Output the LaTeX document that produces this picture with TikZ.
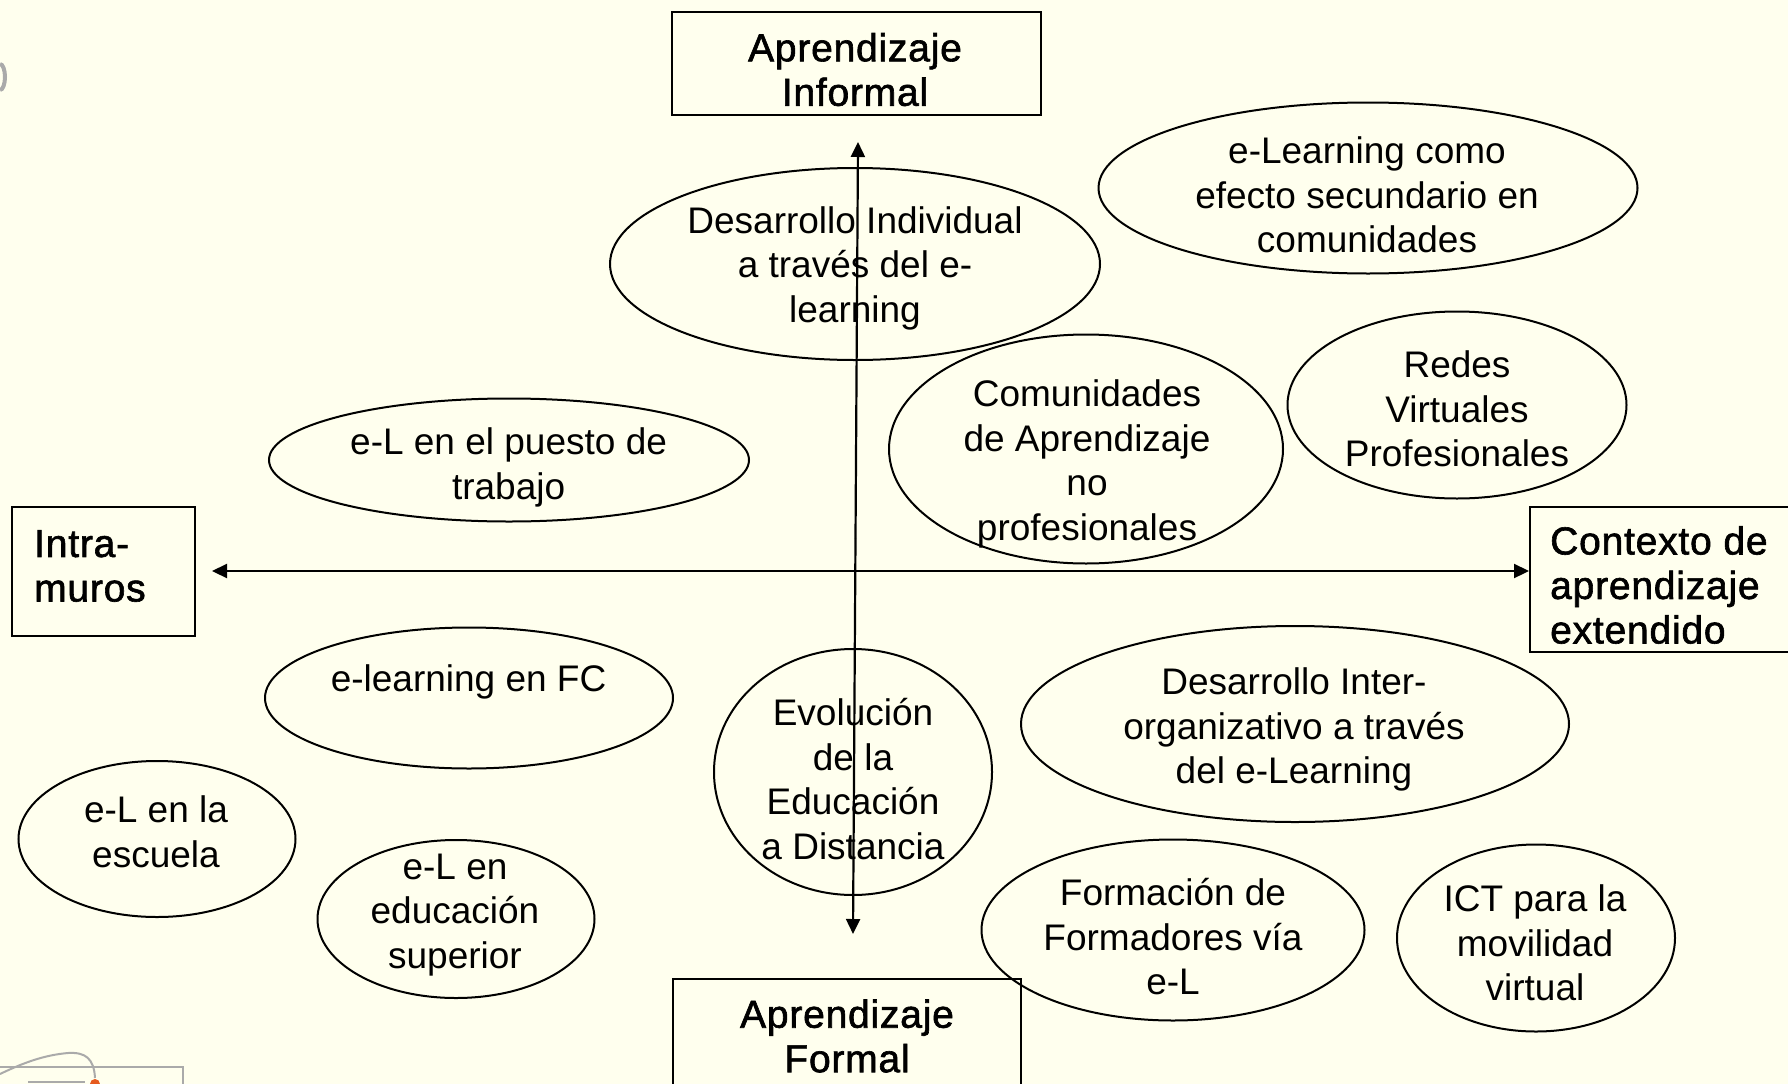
\documentclass[tikz,border=0pt]{standalone}
\usepackage{fontspec}
\usepackage{calc}
\setmainfont{Liberation Sans}
\newfontfamily\boxfont[FakeBold=1.6,LetterSpace=2]{Liberation Sans}
\usetikzlibrary{shapes.geometric,arrows.meta,calc}
\definecolor{bgcream}{RGB}{255,255,238}
\definecolor{logogray}{RGB}{170,170,170}
\definecolor{logoorange}{RGB}{230,90,30}
\begin{document}
\begin{tikzpicture}[x=1pt,y=-1pt,
  oval/.style={draw=black,line width=2pt,ellipse,inner sep=0pt},
  frame/.style={draw=black,line width=2pt,rectangle,inner sep=0pt},
  txt/.style={align=center,inner sep=0pt,font=\fontsize{37}{44.5}\selectfont},
  btxt/.style={inner sep=0pt,font=\boxfont\fontsize{39}{44.5}\selectfont},
  axis/.style={line width=2.2pt,-{Triangle[length=15pt,width=14pt]}}]
\fill[bgcream] (0,0) rectangle (1788,1084);
\useasboundingbox (0,0) rectangle (1788,1084);
\clip (0,0) rectangle (1788,1084);
% faint logo remnants
\draw[logogray,line width=4pt] (0,64) arc[start angle=90,end angle=-90,x radius=5,y radius=-13];
\draw[logogray,line width=2pt] (0,1067) -- (183,1067) -- (183,1084);
\draw[logogray,line width=2pt] (28,1082) -- (85,1082);
\draw[logogray,line width=2pt] (0,1074) .. controls (25,1062) and (45,1055) .. (68,1053) .. controls (85,1052) and (94,1058) .. (95,1078);
\fill[logoorange] (95,1084) circle (5);
% boxes
\node[frame,minimum width=369pt,minimum height=103pt] (inf) at (856,63.5) {};
\node[btxt,align=center] (inftxt) at (855,69.6) {Aprendizaje\\Informal};
\node[frame,minimum width=348pt,minimum height=200pt] (for) at (847,1079) {};
\node[btxt,align=center] (fortxt) at (847,1036) {Aprendizaje\\Formal};
\node[frame,minimum width=183pt,minimum height=129pt] (intra) at (103.5,571.5) {};
\node[btxt,align=left,anchor=west] (intratxt) at (34,566) {Intra-\\muros};
\node[frame,minimum width=340pt,minimum height=145pt] (ext) at (1700,579.5) {};
\node[btxt,align=left,anchor=west] (exttxt) at (1550,585)
  {\makebox[\widthof{aprendizaje}+8pt][s]{Contexto de}\\aprendizaje\\extendido};
% ellipses
\node[oval,minimum width=490pt,minimum height=192pt] (e1) at (855,264) {};
\node[oval,minimum width=539pt,minimum height=171pt] (e2) at (1368,188) {};
\node[oval,minimum width=394pt,minimum height=229pt] (e3) at (1086,449) {};
\node[oval,minimum width=339pt,minimum height=187pt] (e4) at (1457,405) {};
\node[oval,minimum width=480pt,minimum height=123pt] (e5) at (509,460) {};
\node[oval,minimum width=408pt,minimum height=141pt] (e6) at (469,698) {};
\node[oval,minimum width=277pt,minimum height=156pt] (e7) at (157,839) {};
\node[oval,minimum width=277pt,minimum height=158pt] (e8) at (456,919) {};
\node[oval,minimum width=278pt,minimum height=246pt] (e9) at (853,772) {};
\node[oval,minimum width=548pt,minimum height=196pt] (e10) at (1295,724) {};
\node[oval,minimum width=383pt,minimum height=181pt] (e11) at (1173,930) {};
\node[oval,minimum width=278pt,minimum height=187pt] (e12) at (1536,938) {};
% texts
\node[txt] (t1) at (855,268.4) {Desarrollo Individual\\a través del e-\\learning};
\node[txt] (t2) at (1367,195) {e-Learning como\\efecto secundario en\\comunidades};
\node[txt] (t3) at (1087,463.9) {Comunidades\\de Aprendizaje\\no\\profesionales};
\node[txt] (t4) at (1457,409) {Redes\\Virtuales\\Profesionales};
\node[txt] (t5) at (508.6,467.4) {e-L en el puesto de\\trabajo};
\node[txt] (t6) at (468.6,682.4) {e-learning en FC};
\node[txt] (t7) at (156,832) {e-L en la\\escuela};
\node[txt] (t8) at (455,914.9) {e-L en\\educación\\superior};
\node[txt] (t9) at (853,779) {Evolución\\de la\\Educación\\a Distancia};
\node[txt] (t10) at (1294,729.9) {Desarrollo Inter-\\organizativo a través\\del e-Learning};
\node[txt] (t11) at (1173,937) {Formación de\\Formadores vía\\e-L};
\node[txt] (t12) at (1535,943) {ICT para la\\movilidad\\virtual};
% axes
\coordinate (vtop) at (858,142);
\coordinate (vbot) at (853,934);
\coordinate (vmid) at (855.5,538);
\coordinate (hleft) at (212,571);
\coordinate (hmid) at (855,571);
\draw[axis] (hmid) -- (hleft);
\draw[axis] (hmid) -- (ext.west |- hmid);
\draw[axis] (vmid) -- (vtop);
\draw[axis] (vmid) -- (vbot);
\end{tikzpicture}
\end{document}
